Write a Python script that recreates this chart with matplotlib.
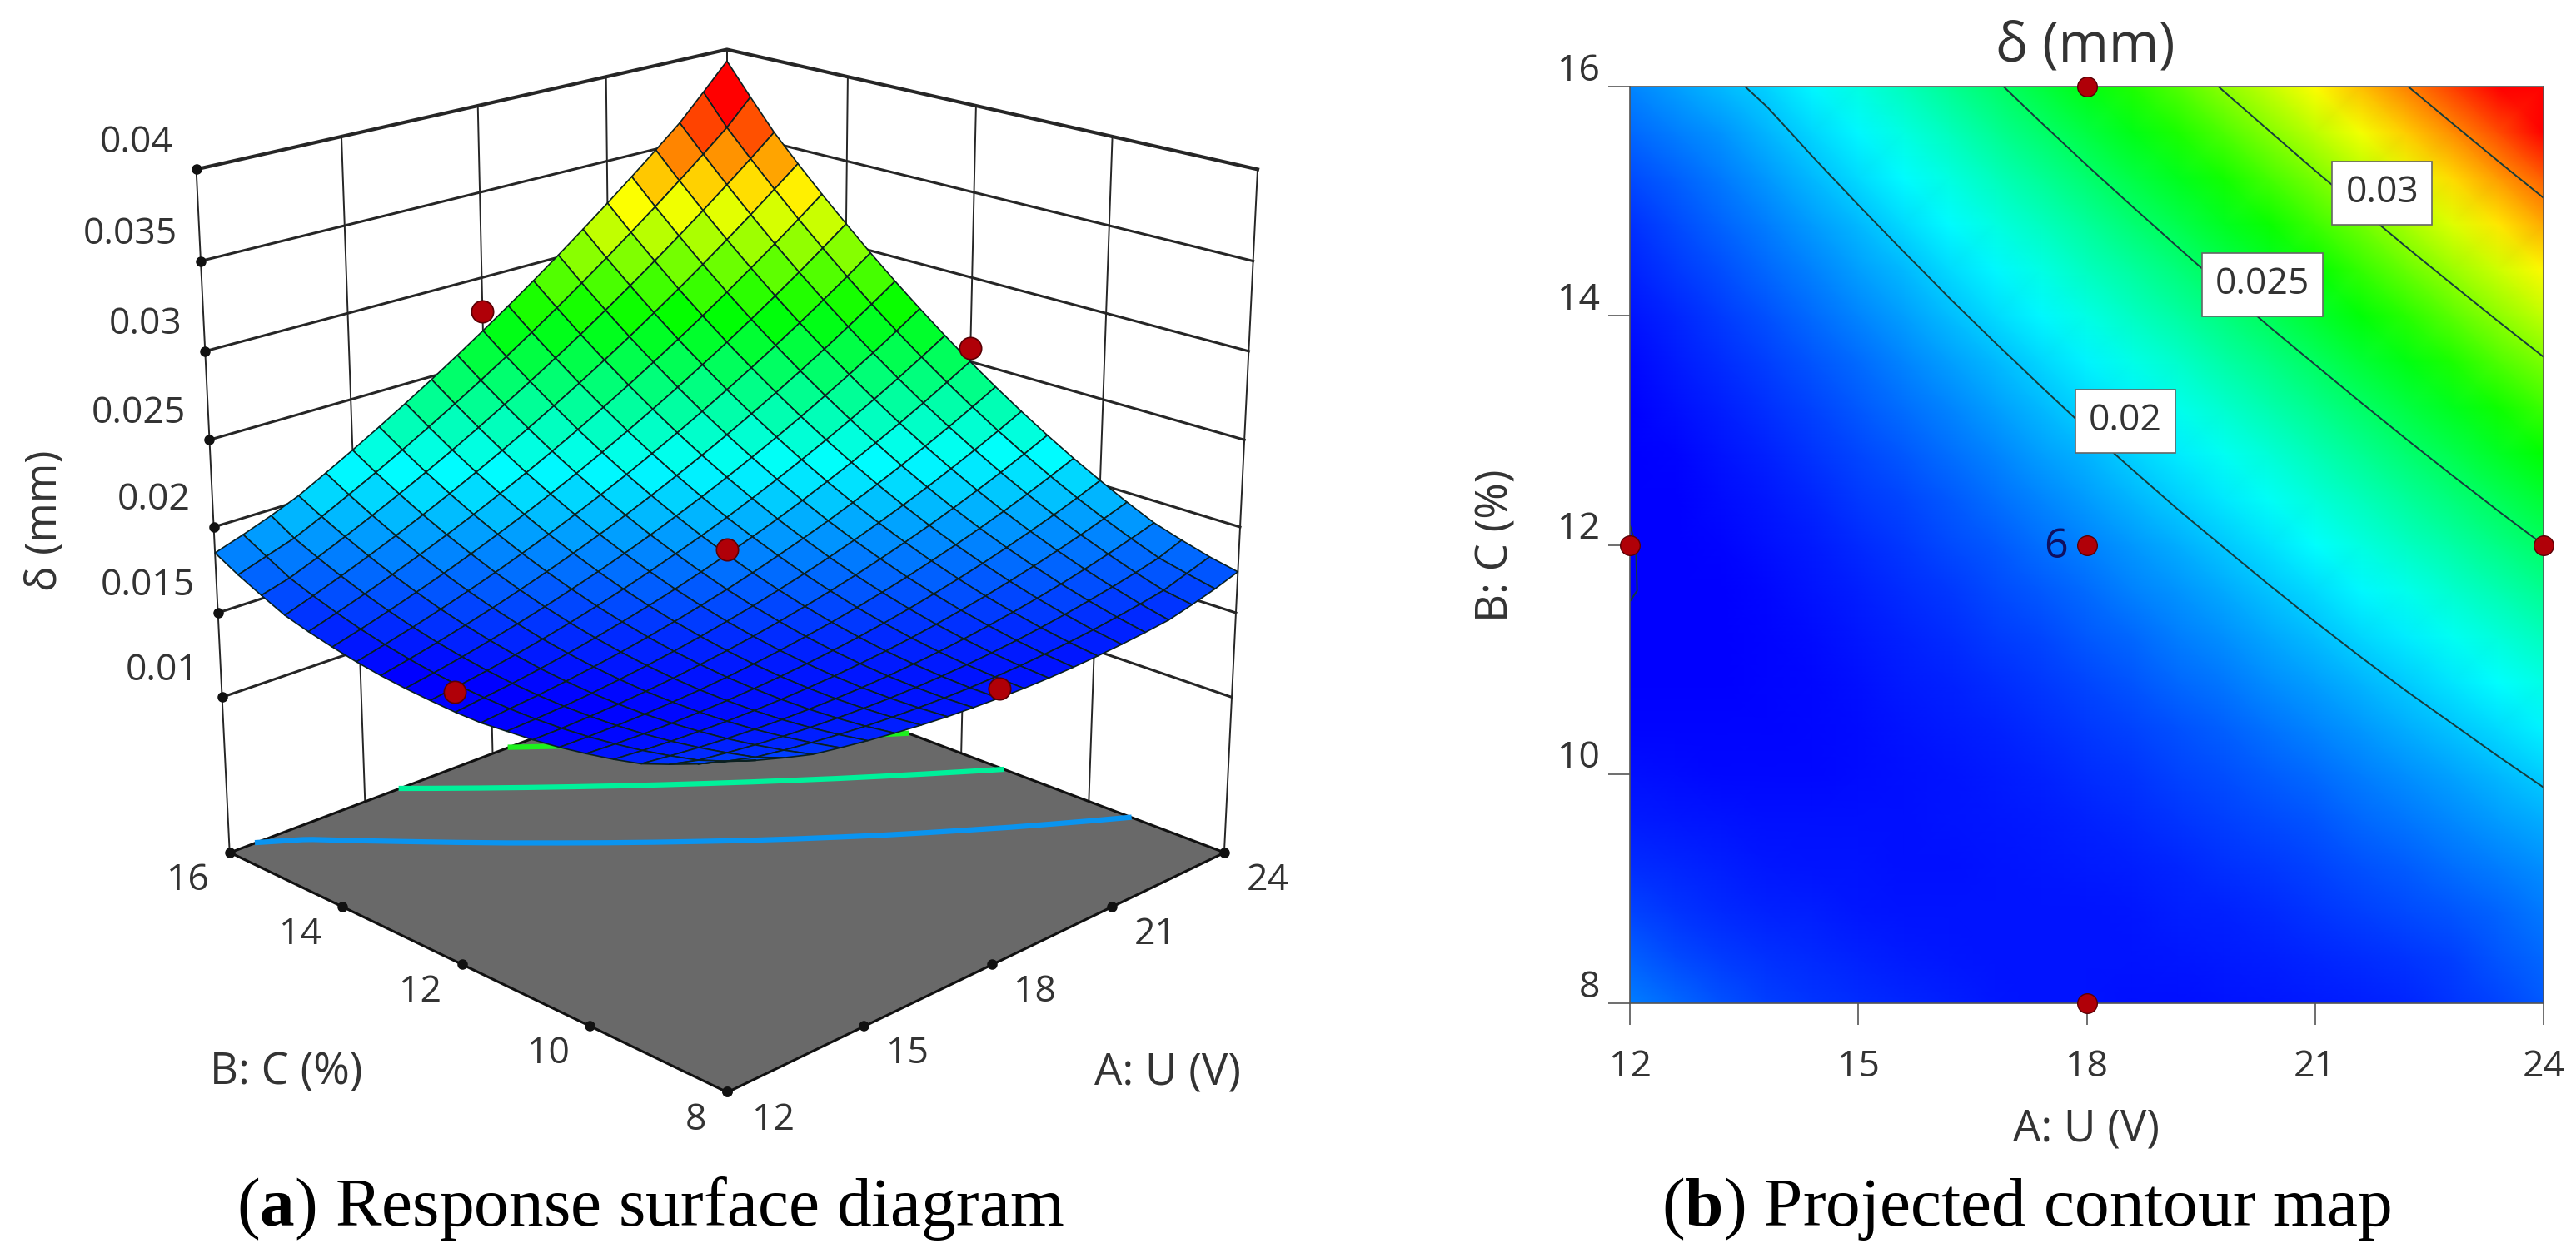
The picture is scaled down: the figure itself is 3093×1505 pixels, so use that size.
"""
plot.py
Response surface (a) and projected contour map (b) of delta against U and C.
All values below were read off the reference picture.
"""

import matplotlib
matplotlib.use("Agg")
import matplotlib.pyplot as plt
import numpy as np
from matplotlib.colors import LinearSegmentedColormap, Normalize
from matplotlib.transforms import ScaledTranslation
from mpl_toolkits.mplot3d import proj3d
from mpl_toolkits.mplot3d.art3d import Poly3DCollection

W_PX, H_PX = 3093, 1505

A_VALUES = [12.0, 12.6, 13.2, 13.8, 14.4, 15.0, 15.6, 16.2, 16.8, 17.4, 18.0,
            18.6, 19.2, 19.8, 20.4, 21.0, 21.6, 22.2, 22.8, 23.4, 24.0]
B_VALUES = [8.0, 8.4, 8.8, 9.2, 9.6, 10.0, 10.4, 10.8, 11.2, 11.6, 12.0,
            12.4, 12.8, 13.2, 13.6, 14.0, 14.4, 14.8, 15.2, 15.6, 16.0]

# delta in 1e-5 mm; rows are B (8 -> 16), columns are A (12 -> 24)
DELTA_TABLE = [
    [1830, 1775, 1728, 1685, 1660, 1638, 1619, 1603, 1590, 1581, 1575, 1572, 1572, 1576, 1583, 1593, 1606, 1622, 1656, 1694, 1740],
    [1756, 1710, 1670, 1647, 1627, 1611, 1597, 1587, 1580, 1576, 1575, 1578, 1584, 1593, 1605, 1620, 1639, 1660, 1685, 1730, 1775],
    [1693, 1654, 1633, 1615, 1601, 1590, 1582, 1577, 1575, 1577, 1582, 1590, 1601, 1615, 1633, 1654, 1678, 1705, 1735, 1769, 1821],
    [1635, 1617, 1601, 1589, 1580, 1574, 1572, 1572, 1576, 1583, 1594, 1607, 1624, 1644, 1667, 1693, 1722, 1755, 1791, 1830, 1872],
    [1598, 1585, 1575, 1569, 1565, 1565, 1568, 1574, 1583, 1596, 1611, 1630, 1652, 1678, 1706, 1738, 1773, 1811, 1852, 1897, 1944],
    [1568, 1560, 1555, 1554, 1556, 1561, 1570, 1581, 1596, 1614, 1635, 1659, 1687, 1718, 1752, 1789, 1829, 1873, 1919, 1969, 2023],
    [1542, 1540, 1541, 1545, 1553, 1563, 1577, 1594, 1614, 1638, 1664, 1694, 1727, 1763, 1803, 1845, 1891, 1940, 1992, 2048, 2106],
    [1523, 1526, 1533, 1542, 1555, 1571, 1591, 1613, 1639, 1668, 1700, 1735, 1773, 1815, 1860, 1908, 1959, 2014, 2071, 2132, 2196],
    [1510, 1518, 1530, 1545, 1564, 1585, 1610, 1638, 1669, 1703, 1741, 1781, 1825, 1872, 1923, 1976, 2033, 2093, 2156, 2222, 2292],
    [1497, 1516, 1533, 1554, 1578, 1605, 1635, 1668, 1705, 1744, 1787, 1834, 1883, 1935, 1991, 2050, 2112, 2178, 2246, 2318, 2393],
    [1497, 1520, 1542, 1568, 1598, 1630, 1666, 1704, 1746, 1792, 1840, 1892, 1946, 2004, 2066, 2130, 2198, 2268, 2342, 2420, 2500],
    [1504, 1529, 1557, 1589, 1623, 1661, 1702, 1746, 1794, 1845, 1898, 1955, 2016, 2079, 2146, 2216, 2289, 2365, 2444, 2527, 2613],
    [1514, 1544, 1578, 1615, 1655, 1698, 1745, 1794, 1847, 1903, 1963, 2025, 2091, 2160, 2232, 2307, 2386, 2467, 2552, 2640, 2732],
    [1529, 1565, 1604, 1647, 1692, 1741, 1793, 1848, 1906, 1968, 2033, 2101, 2172, 2246, 2324, 2404, 2488, 2575, 2666, 2759, 2856],
    [1550, 1592, 1636, 1684, 1735, 1789, 1847, 1907, 1971, 2038, 2108, 2182, 2258, 2338, 2421, 2507, 2597, 2689, 2785, 2884, 2986],
    [1578, 1624, 1674, 1728, 1784, 1844, 1907, 1973, 2042, 2114, 2190, 2269, 2351, 2436, 2525, 2616, 2711, 2809, 2910, 3015, 3123],
    [1610, 1663, 1718, 1777, 1839, 1904, 1972, 2044, 2118, 2196, 2277, 2362, 2449, 2540, 2634, 2731, 2831, 2935, 3041, 3151, 3264],
    [1649, 1707, 1768, 1832, 1899, 1970, 2044, 2121, 2201, 2284, 2371, 2460, 2553, 2649, 2749, 2851, 2957, 3066, 3178, 3294, 3412],
    [1710, 1757, 1823, 1893, 1966, 2042, 2121, 2203, 2289, 2378, 2470, 2565, 2663, 2765, 2870, 2978, 3089, 3203, 3321, 3442, 3566],
    [1775, 1830, 1884, 1959, 2038, 2119, 2204, 2292, 2383, 2477, 2574, 2675, 2779, 2886, 2996, 3110, 3226, 3346, 3469, 3595, 3745],
    [1850, 1905, 1965, 2032, 2116, 2203, 2293, 2386, 2482, 2582, 2685, 2791, 2900, 3013, 3129, 3248, 3370, 3495, 3623, 3775, 3930],
]

# design points: the 3D markers sit a little off the fitted surface
POINT_A = [18, 24, 18, 12, 18]
POINT_B = [16, 12, 12, 12, 8]
POINT_DELTA = [0.0280, 0.0258, 0.0187, 0.0161, 0.0163]

Z_TICKS = [0.01, 0.015, 0.02, 0.025, 0.03, 0.035, 0.04]
Z_TICK_LABELS = ["0.01", "0.015", "0.02", "0.025", "0.03", "0.035", "0.04"]
A_TICKS = [12, 15, 18, 21, 24]
B_TICKS = [8, 10, 12, 14, 16]
Z_FLOOR = 0.0006
Z_TOP = 0.04

CONTOUR_LEVELS = [0.015, 0.02, 0.025, 0.03, 0.035]
FLOOR_LEVELS = [0.019, 0.0232, 0.0275, 0.032]
FLOOR_COLORS = ["#0a94f0", "#00f09a", "#1ef01e", "#c8f000"]
LABEL_LEVELS = ["0.02", "0.025", "0.03"]
LABEL_A = [18.51, 20.31, 21.88]
LABEL_B = [13.08, 14.27, 15.07]

TEXT_COLOR = "#333333"
LINE_COLOR = "#262626"
RED = "#b00008"
DARK_RED = "#5a0005"

plt.rcParams["font.family"] = ["Open Sans", "DejaVu Sans"]
plt.rcParams["mathtext.fontset"] = "custom"
plt.rcParams["mathtext.bf"] = "Liberation Serif:bold"
plt.rcParams["mathtext.rm"] = "Liberation Serif"

CMAP = LinearSegmentedColormap.from_list(
    "rsm", [(0.0, "#0000ff"), (0.27, "#00ffff"), (0.541, "#00ff00"),
            (0.775, "#ffff00"), (1.0, "#ff0000")])
NORM = Normalize(0.0153, 0.0375)


def px(x, y):
    """Figure fraction from a pixel position (origin top left)."""
    return x / W_PX, 1 - y / H_PX


def fig_text(fig, x, y, s, **kw):
    fx, fy = px(x, y)
    kw.setdefault("color", TEXT_COLOR)
    fig.text(fx, fy, s, ha=kw.pop("ha", "center"), va=kw.pop("va", "center"), **kw)


def label_3d(ax, x, y, z, s, dx, dy, ha="center", size=32):
    """Tick label next to a 3D point, shifted by dx, dy pixels."""
    x2, y2, _ = proj3d.proj_transform(x, y, z, ax.get_proj())
    ax.annotate(s, (x2, y2), xytext=(dx * 0.72, -dy * 0.72),
                textcoords="offset points", ha=ha, va="center",
                fontsize=size, color=TEXT_COLOR, annotation_clip=False)


def panel_surface(fig, a, b, delta):
    left, bottom = px(120, 646.6 + 733)
    ax = fig.add_axes([left, bottom, 1466 / W_PX, 1466 / H_PX],
                      projection="3d", computed_zorder=False)
    ax.set_proj_type("persp", focal_length=0.579)
    ax.view_init(elev=20, azim=-135)
    ax.set_box_aspect((1, 1, 1))
    ax.set_axis_off()
    ax.patch.set_alpha(0)
    a_lo, a_hi = A_TICKS[0], A_TICKS[-1]
    b_lo, b_hi = B_TICKS[0], B_TICKS[-1]

    # walls behind the surface
    for z in Z_TICKS:
        lw = 3.0 if z == Z_TOP else 2.2
        ax.plot([a_lo, a_hi, a_hi], [b_hi, b_hi, b_lo], [z, z, z],
                color=LINE_COLOR, lw=lw, zorder=1)
    for v in A_TICKS:
        ax.plot([v, v], [b_hi, b_hi], [Z_FLOOR, Z_TOP], color=LINE_COLOR, lw=1.4, zorder=1)
    for v in B_TICKS:
        ax.plot([a_hi, a_hi], [v, v], [Z_FLOOR, Z_TOP], color=LINE_COLOR, lw=1.4, zorder=1)

    # floor with the projected contours
    floor = Poly3DCollection([[(a_lo, b_lo, Z_FLOOR), (a_hi, b_lo, Z_FLOOR),
                               (a_hi, b_hi, Z_FLOOR), (a_lo, b_hi, Z_FLOOR)]],
                             facecolor="#696969", edgecolor="#111111",
                             linewidth=2.2, zorder=2)
    ax.add_collection3d(floor)
    ax.contour(a, b, delta, levels=FLOOR_LEVELS, zdir="z", offset=Z_FLOOR,
               colors=FLOOR_COLORS, linewidths=4.5, zorder=2.5)

    ax.plot_surface(a, b, delta, rstride=1, cstride=1, cmap=CMAP, norm=NORM,
                    shade=False, edgecolor="#0a2020", linewidth=1.2,
                    antialiased=True, zorder=3)

    # tick dots
    ax.plot([a_lo] * len(Z_TICKS), [b_hi] * len(Z_TICKS), Z_TICKS, ls="none",
            marker="o", ms=8, color="#111111", zorder=1.5)
    ax.plot([a_lo] * len(B_TICKS), B_TICKS, [Z_FLOOR] * len(B_TICKS), ls="none",
            marker="o", ms=8, color="#111111", zorder=2.6)
    ax.plot(A_TICKS, [b_lo] * len(A_TICKS), [Z_FLOOR] * len(A_TICKS), ls="none",
            marker="o", ms=8, color="#111111", zorder=2.6)

    ax.plot(POINT_A, POINT_B, POINT_DELTA, ls="none", marker="o", ms=19,
            mfc=RED, mec=DARK_RED, mew=1.2, zorder=4)

    ax.set_xlim(a_lo, a_hi)
    ax.set_ylim(b_lo, b_hi)
    ax.set_zlim(Z_FLOOR, Z_TOP)

    for z, s in zip(Z_TICKS, Z_TICK_LABELS):
        label_3d(ax, a_lo, b_hi, z, s, -28, -32, ha="right")
    for v in B_TICKS:
        label_3d(ax, a_lo, v, Z_FLOOR, str(v), -50 if v > 8 else -37, 34)
    for v in A_TICKS:
        label_3d(ax, v, b_lo, Z_FLOOR, str(v), 52 if v > 12 else 56, 34)
    return ax


def panel_contour(fig, a, b, delta):
    left, bottom = px(1957, 1205)
    ax = fig.add_axes([left, bottom, 1097 / W_PX, 1101 / H_PX])
    ax.pcolormesh(a, b, delta, shading="gouraud", cmap=CMAP, norm=NORM)
    ax.contour(a, b, delta, levels=CONTOUR_LEVELS, colors="#163c3c", linewidths=1.4)

    for s, x, y in zip(LABEL_LEVELS, LABEL_A, LABEL_B):
        ax.text(x, y, s, ha="center", va="center", fontsize=32, color=TEXT_COLOR,
                bbox=dict(boxstyle="square,pad=0.36", fc="white", ec="#666666", lw=1.2))
    ax.text(17.59, 11.98, "6", ha="center", va="center", fontsize=36, color="#101060")
    ax.plot(POINT_A, POINT_B, ls="none", marker="o", ms=17, mfc=RED, mec=DARK_RED,
            mew=1.0, clip_on=False, zorder=5)

    ax.set_xlim(12, 24)
    ax.set_ylim(8, 16)
    ax.set_xticks(A_TICKS)
    ax.set_yticks(B_TICKS)
    ax.tick_params(length=19, width=1.2, color="#555555", labelsize=32,
                   labelcolor=TEXT_COLOR)
    ax.tick_params(axis="x", pad=20)
    ax.tick_params(axis="y", pad=7)
    # the value labels of the y axis sit above their ticks
    shift = ScaledTranslation(0, 24 / 100, fig.dpi_scale_trans)
    for label in ax.get_yticklabels():
        label.set_transform(label.get_transform() + shift)
    for spine in ax.spines.values():
        spine.set_color("#555555")
        spine.set_linewidth(1.2)
    return ax


def main():
    fig = plt.figure(figsize=(W_PX / 100, H_PX / 100), dpi=100)
    a, b = np.meshgrid(A_VALUES, B_VALUES)
    delta = np.array(DELTA_TABLE) / 1e5

    panel_surface(fig, a, b, delta)
    panel_contour(fig, a, b, delta)

    fig_text(fig, 54, 625, "δ (mm)", fontsize=37, rotation=90)
    fig_text(fig, 344, 1289, "B: C (%)", fontsize=38)
    fig_text(fig, 1402, 1289, "A: U (V)", fontsize=38)
    fig_text(fig, 2504, 57, "δ (mm)", fontsize=47)
    fig_text(fig, 2505, 1357, "A: U (V)", fontsize=38)
    fig_text(fig, 1797, 655, "B: C (%)", fontsize=38, rotation=90)

    serif = ["Liberation Serif", "DejaVu Serif"]
    fig_text(fig, 781, 1452, r"($\mathbf{a}$) Response surface diagram",
             fontsize=60, family=serif, color="black")
    fig_text(fig, 2433, 1452, r"($\mathbf{b}$) Projected contour map",
             fontsize=60, family=serif, color="black")

    fig.savefig("out.png", dpi=100)


if __name__ == "__main__":
    main()
